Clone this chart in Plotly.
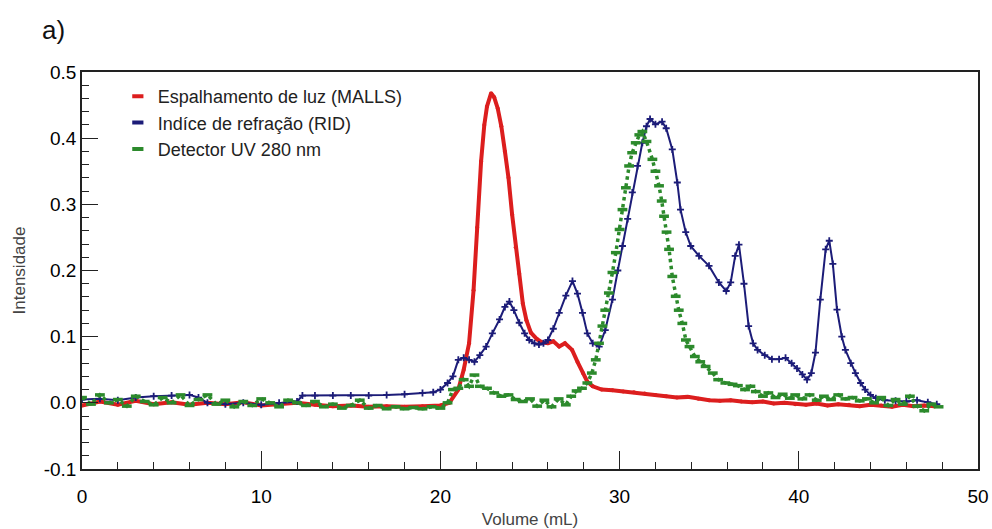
import plotly.graph_objects as go

# ---- Light scattering detector (MALLS) ----
malls_vol = [0, 1, 2, 3, 4, 5, 6, 7, 8, 9, 10, 11, 12, 13, 14, 15, 16, 17, 18, 19, 20,
             20.5, 21.0, 21.3, 21.6, 21.85, 22.05, 22.27, 22.45, 22.6, 22.83, 23.0, 23.2,
             23.4, 23.6, 23.8, 24.0, 24.2, 24.4, 24.6, 24.8, 25.05, 25.4, 25.7, 26.0, 26.3,
             26.63, 26.95, 27.35, 27.65, 27.95, 28.2, 28.5, 29.0, 29.6, 30.2, 30.8, 31.4,
             32.0, 32.6, 33.2, 33.8, 34.4, 35.0, 35.6, 36.2, 36.8, 37.4, 38.0, 38.6, 39.2,
             39.8, 40.4, 41.0, 41.6, 42.2, 42.8, 43.4, 44.0, 44.6, 45.2, 45.8, 46.4, 47.0,
             47.6]
malls_int = [-0.004, 0.002, -0.003, 0.003, -0.002, 0.001, -0.003, 0.0, -0.002, 0.001,
             -0.004, -0.002, 0.0, -0.003, -0.005, -0.004, -0.006, -0.005, -0.006, -0.005,
             -0.004, 0.0, 0.02, 0.05, 0.09, 0.17, 0.265, 0.365, 0.42, 0.448, 0.468, 0.462,
             0.445, 0.418, 0.38, 0.34, 0.285, 0.235, 0.195, 0.15, 0.125, 0.106, 0.096,
             0.091, 0.09, 0.093, 0.085, 0.09, 0.08, 0.062, 0.045, 0.032, 0.025, 0.02, 0.019,
             0.017, 0.016, 0.014, 0.012, 0.01, 0.008, 0.009, 0.006, 0.004, 0.003, 0.004,
             0.002, 0.001, 0.002, -0.001, 0.0, -0.002, -0.003, -0.001, -0.004, -0.002,
             -0.003, -0.005, -0.003, -0.004, -0.006, -0.003, -0.005, -0.004, -0.005]

# ---- Refractive index detector (RID) ----
rid_vol = [0, 1, 2, 3, 4, 5, 6, 6.5, 7, 8, 9, 10, 11, 12, 12.3, 13, 14, 15, 16, 17, 18,
           19, 19.6, 20.0, 20.4, 20.7, 21.0, 21.3, 21.6, 21.9, 22.2, 22.55, 22.9, 23.3,
           23.6, 23.85, 24.1, 24.4, 24.7, 24.96, 25.25, 25.5, 25.75, 26.0, 26.3, 26.63,
           27.0, 27.37, 27.65, 27.93, 28.2, 28.5, 28.86, 29.2, 29.6, 29.9, 30.16, 30.45,
           30.71, 31.0, 31.27, 31.5, 31.7, 32.0, 32.37, 32.6, 32.94, 33.22, 33.4, 33.69,
           33.97, 34.43, 34.99, 35.54, 35.95, 36.2, 36.45, 36.66, 36.94, 37.2, 37.45, 37.7,
           38.1, 38.5, 38.9, 39.26, 39.6, 39.9, 40.2, 40.46, 40.7, 40.93, 41.2, 41.5, 41.7,
           41.9, 42.13, 42.4, 42.6, 42.9, 43.16, 43.45, 43.7, 44.0, 44.3, 44.8, 45.4, 46.0,
           46.6, 47.2, 47.7]
rid_int = [0.005, 0.006, 0.004, 0.008, 0.01, 0.011, 0.012, 0.008, 0.0, -0.002, 0.0,
           -0.003, 0.0, 0.002, 0.011, 0.011, 0.011, 0.011, 0.011, 0.012, 0.013, 0.015,
           0.016, 0.02, 0.03, 0.04, 0.065, 0.068, 0.065, 0.062, 0.072, 0.085, 0.105, 0.126,
           0.145, 0.153, 0.14, 0.121, 0.105, 0.095, 0.09, 0.088, 0.09, 0.095, 0.112, 0.136,
           0.162, 0.184, 0.165, 0.136, 0.105, 0.09, 0.085, 0.11, 0.156, 0.2, 0.237, 0.278,
           0.318, 0.358, 0.393, 0.418, 0.429, 0.421, 0.425, 0.415, 0.383, 0.333, 0.292,
           0.258, 0.237, 0.222, 0.207, 0.182, 0.169, 0.182, 0.222, 0.239, 0.18, 0.116,
           0.09, 0.08, 0.072, 0.066, 0.066, 0.068, 0.06, 0.052, 0.043, 0.035, 0.045, 0.076,
           0.156, 0.232, 0.245, 0.21, 0.141, 0.1, 0.08, 0.06, 0.045, 0.03, 0.02, 0.012,
           0.007, 0.004, 0.003, 0.002, 0.004, 0.001, -0.002]

# ---- UV detector, 280 nm ----
uv_vol = [0, 0.5, 1.0, 1.5, 2.0, 2.5, 3.0, 3.5, 4.0, 4.5, 5.0, 5.5, 6.0, 6.5, 7.0, 7.5,
          8.0, 8.5, 9.0, 9.5, 10.0, 10.5, 11.0, 11.5, 12.0, 12.5, 13.0, 13.5, 14.0, 14.5,
          15.0, 15.5, 16.0, 16.5, 17.0, 17.5, 18.0, 18.5, 19.0, 19.5, 20.0, 20.4, 20.7,
          21.0, 21.3, 21.6, 21.9, 22.2, 22.6, 23.0, 23.4, 23.8, 24.2, 24.6, 25.0, 25.4,
          25.8, 26.2, 26.6, 27.0, 27.3, 27.6, 27.9, 28.2, 28.45, 28.67, 28.85, 29.04, 29.2,
          29.4, 29.6, 29.79, 30.0, 30.16, 30.35, 30.53, 30.7, 30.9, 31.1, 31.27, 31.5,
          31.83, 32.0, 32.2, 32.35, 32.48, 32.62, 32.76, 32.94, 33.13, 33.3, 33.5, 33.7,
          33.9, 34.2, 34.5, 34.8, 35.2, 35.5, 35.9, 36.3, 36.6, 37.0, 37.3, 37.6, 38.0,
          38.3, 38.7, 39.1, 39.5, 39.8, 40.2, 40.6, 41.0, 41.4, 41.8, 42.2, 42.6, 43.0,
          43.4, 43.8, 44.2, 44.6, 45.0, 45.4, 45.8, 46.2, 46.6, 47.0, 47.4, 47.8]
uv_int = [0.008, -0.002, 0.012, 0.0, 0.005, -0.005, 0.01, 0.002, -0.003, 0.008, 0.0,
          0.012, -0.004, 0.005, 0.012, -0.002, 0.004, -0.006, 0.002, -0.004, 0.006, 0.0,
          -0.006, 0.004, 0.0, -0.004, 0.002, -0.006, -0.002, -0.008, -0.004, 0.004, -0.008,
          -0.004, -0.009, -0.006, -0.009, -0.007, -0.009, -0.006, -0.008, 0.0, 0.02,
          0.022, 0.035, 0.025, 0.042, 0.025, 0.022, 0.015, 0.01, 0.012, 0.005, 0.002,
          0.006, -0.005, 0.004, -0.006, 0.006, -0.003, 0.01, 0.018, 0.022, 0.03, 0.045,
          0.065, 0.09, 0.116, 0.14, 0.166, 0.197, 0.227, 0.262, 0.292, 0.325, 0.358, 0.378,
          0.393, 0.405, 0.41, 0.395, 0.368, 0.35, 0.328, 0.305, 0.282, 0.258, 0.232, 0.191,
          0.161, 0.14, 0.12, 0.095, 0.085, 0.07, 0.062, 0.055, 0.045, 0.035, 0.03, 0.028,
          0.026, 0.02, 0.025, 0.017, 0.01, 0.015, 0.008, 0.013, 0.007, 0.012, 0.006, 0.012,
          0.004, 0.01, 0.005, 0.012, 0.006, 0.008, 0.003, 0.006, 0.0, 0.008, -0.004,
          0.005, -0.002, 0.01, -0.005, -0.012, -0.002, -0.006]

legend_names = ["Espalhamento de luz (MALLS)", "Indíce de refração (RID)", "Detector UV 280 nm"]
colors = ["#dc1e1e", "#1c1c78", "#2c8a2c"]

x_ticks = [0, 10, 20, 30, 40, 50]
y_ticks = [-0.1, 0.0, 0.1, 0.2, 0.3, 0.4, 0.5]
y_ticktext = ["-0.1", "0.0", "0.1", "0.2", "0.3", "0.4", "0.5"]

FONT = "Liberation Sans, Arial, sans-serif"

fig = go.Figure()

fig.add_trace(go.Scatter(
    x=malls_vol, y=malls_int, mode="lines+markers", showlegend=False,
    line=dict(color=colors[0], width=4),
    marker=dict(color=colors[0], size=4, symbol="circle"),
))
fig.add_trace(go.Scatter(
    x=rid_vol, y=rid_int, mode="lines+markers", showlegend=False,
    line=dict(color=colors[1], width=2),
    marker=dict(symbol="cross-thin", size=5, line=dict(color=colors[1], width=1.8)),
))
fig.add_trace(go.Scatter(
    x=uv_vol, y=uv_int, mode="lines+markers", showlegend=False,
    line=dict(color=colors[2], width=3.5, dash="dot"),
    marker=dict(symbol="line-ew", size=7, line=dict(color=colors[2], width=3.5)),
))

# legend entries: short thick dashes
for name, c in zip(legend_names, colors):
    fig.add_trace(go.Scatter(
        x=[None], y=[None], mode="markers", name=name,
        marker=dict(symbol="line-ew", size=8, line=dict(color=c, width=4)),
    ))

fig.add_annotation(text="a)", xref="paper", yref="paper", x=-0.032, y=1.105,
                   xanchor="center", yanchor="middle", showarrow=False,
                   font=dict(family=FONT, size=26, color="#111"))

fig.update_layout(
    width=992, height=529,
    margin=dict(l=82, r=14, t=72, b=60),
    paper_bgcolor="white", plot_bgcolor="white",
    font=dict(family=FONT, color="#111"),
    legend=dict(x=0.04, y=0.985, xanchor="left", yanchor="top",
                bgcolor="rgba(0,0,0,0)", itemwidth=30,
                font=dict(family=FONT, size=18, color="#222")),
    xaxis=dict(
        range=[0, 50], tickvals=x_ticks, showgrid=False, zeroline=False,
        automargin=False,
        showline=True, mirror=True, linecolor="#222", linewidth=1.5,
        ticks="inside", ticklen=18, tickwidth=1.3, tickcolor="#222",
        minor=dict(dtick=2, ticks="inside", ticklen=7, tickwidth=1.2, tickcolor="#222"),
        ticklabelstandoff=9,
        tickfont=dict(family=FONT, size=19, color="#000"),
        title=dict(text="Volume (mL)", standoff=8,
                   font=dict(family=FONT, size=17, color="#444")),
    ),
    yaxis=dict(
        range=[-0.1, 0.5], tickvals=y_ticks, ticktext=y_ticktext, showgrid=False,
        automargin=False,
        zeroline=False, showline=True, mirror=True, linecolor="#222", linewidth=1.5,
        ticks="inside", ticklen=16, tickwidth=1.3, tickcolor="#222",
        minor=dict(dtick=0.02, ticks="inside", ticklen=7, tickwidth=1.2, tickcolor="#222"),
        tickfont=dict(family=FONT, size=19, color="#000"),
        title=dict(text="Intensidade", standoff=14,
                   font=dict(family=FONT, size=17, color="#444")),
    ),
)

fig.write_html("out.html")
